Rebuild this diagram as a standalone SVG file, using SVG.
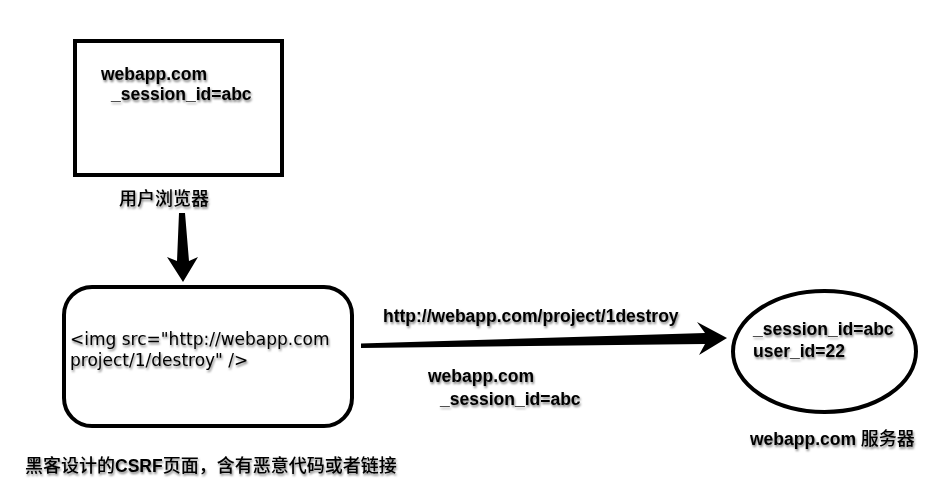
<svg xmlns="http://www.w3.org/2000/svg" width="939" height="498" viewBox="0 0 939 498">
<style>
.box{fill:#fff;stroke:#000;stroke-width:4}
.t{font-family:"Liberation Sans","Noto Sans CJK SC",sans-serif;font-size:17.5px;font-weight:bold;fill:#000}
.cn{font-family:"Noto Sans CJK SC","Liberation Sans",sans-serif;font-size:18px;font-weight:500;fill:#000}
.code{font-family:"DejaVu Sans",sans-serif;font-size:17px;fill:#000}
.arr{fill:#000}
</style>
<defs>
<filter id="sh" x="-10%" y="-30%" width="120%" height="170%">
<feDropShadow dx="1" dy="2" stdDeviation="1.3" flood-color="#000" flood-opacity="0.5"/>
</filter>
</defs>
<rect width="939" height="498" fill="#fff"/>
<g id="browser">
<rect class="box" x="75" y="41" width="207" height="134"/>
<g filter="url(#sh)">
<text class="t" x="101" y="80">webapp.com</text>
<text class="t" x="111" y="100">_session_id=abc</text>
<text class="cn" x="119" y="205" font-size="17.5px">用户浏览器</text>
</g>
</g>
<g id="csrf-page">
<rect class="box" x="64" y="287" width="288" height="139" rx="28"/>
<g filter="url(#sh)">
<text class="code" x="70" y="345">&lt;img src="http://webapp.com</text>
<text class="code" x="70" y="366">project/1/destroy" /&gt;</text>
<text x="25" y="472" class="cn">黑客设计的<tspan class="t" font-size="18px">CSRF</tspan>页面，含有恶意代码或者链接</text>
</g>
</g>
<g id="server">
<ellipse class="box" cx="824.5" cy="351.5" rx="91.5" ry="60.5"/>
<g filter="url(#sh)">
<text class="t" x="753" y="335">_session_id=abc</text>
<text class="t" x="753" y="357">user_id=22</text>
<text class="t" x="750" y="445">webapp.com <tspan class="cn">服务器</tspan></text>
</g>
</g>
<g id="connectors">
<polygon class="arr" points="179,213 185,213 189,261 198,257 183,282 167,257 177,261"/>
<polygon class="arr" points="361,343.5 705,333 697,322 727,338 699,355 705,344 361,348"/>
<g filter="url(#sh)">
<text class="t" x="383" y="322">http://webapp.com/project/1destroy</text>
<text class="t" x="428" y="382">webapp.com</text>
<text class="t" x="440" y="405">_session_id=abc</text>
</g>
</g>
</svg>
